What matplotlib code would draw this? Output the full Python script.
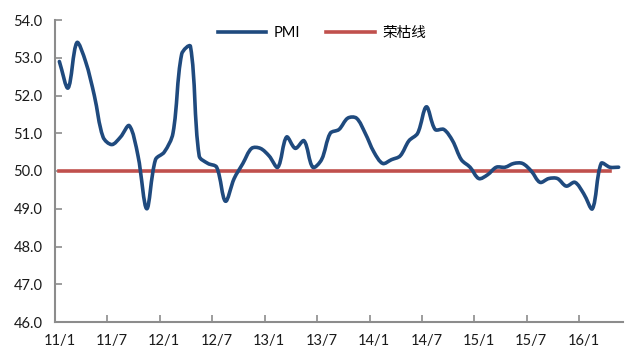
import matplotlib
matplotlib.use("Agg")
import matplotlib.pyplot as plt
from matplotlib.path import Path
from matplotlib.patches import PathPatch
from matplotlib.lines import Line2D
import numpy as np

plt.rcParams['font.family'] = ['Lato', 'Noto Sans CJK SC', 'DejaVu Sans']

months = [f"{y}/{m}" for y in range(11, 17) for m in range(1, 13)][:65]
pmi = [52.9, 52.2, 53.4, 52.9, 52.0, 50.9, 50.7, 50.9, 51.2, 50.4, 49.0, 50.3,
       50.5, 51.0, 53.1, 53.3, 50.4, 50.2, 50.1, 49.2, 49.8, 50.2, 50.6, 50.6,
       50.4, 50.1, 50.9, 50.6, 50.8, 50.1, 50.3, 51.0, 51.1, 51.4, 51.4, 51.0,
       50.5, 50.2, 50.3, 50.4, 50.8, 51.0, 51.7, 51.1, 51.1, 50.8, 50.3, 50.1,
       49.8, 49.9, 50.1, 50.1, 50.2, 50.2, 50.0, 49.7, 49.8, 49.8, 49.6, 49.7,
       49.4, 49.0, 50.2, 50.1, 50.1]
threshold = [50.0] * 64
yticks = [46.0, 47.0, 48.0, 49.0, 50.0, 51.0, 52.0, 53.0, 54.0]
tick_labels = ["11/1", "11/7", "12/1", "12/7", "13/1", "13/7", "14/1", "14/7", "15/1", "15/7", "16/1"]

BLUE = "#1F4A7E"
RED = "#C0504D"
GREY = "#8C8C8C"

fig = plt.figure(figsize=(6.28, 3.49), dpi=100)
ax = fig.add_axes([55/628, 1-322/349, (623-55)/628, (322-20)/349])

# screen scale (px per data unit) for length-aware smoothing
SX = 568 / 65.0
SY = 302 / 8.0

def smooth_path(xs, ys, s=1/3):
    xs = np.asarray(xs, float); ys = np.asarray(ys, float)
    n = len(xs)
    P = np.column_stack([xs, ys])
    scale = np.array([SX, SY])
    def dist(a, b):
        return np.hypot(*((P[b] - P[a]) * scale))
    verts = [tuple(P[0])]
    codes = [Path.MOVETO]
    for i in range(n - 1):
        i0, i1, i2, i3 = max(i-1, 0), i, i+1, min(i+2, n-1)
        d01, d12, d23 = dist(i0, i1), dist(i1, i2), dist(i2, i3)
        w1 = d12 / (d01 + d12) if (d01 + d12) > 0 else 0.5
        w2 = d12 / (d12 + d23) if (d12 + d23) > 0 else 0.5
        c1 = P[i1] + (P[i2] - P[i0]) * w1 * s
        c2 = P[i2] - (P[i3] - P[i1]) * w2 * s
        verts += [tuple(c1), tuple(c2), tuple(P[i2])]
        codes += [Path.CURVE4] * 3
    return Path(verts, codes)

x = np.arange(len(pmi))
ax.add_patch(PathPatch(smooth_path(x, pmi), fill=False, edgecolor=BLUE, lw=2.6,
                       capstyle='round', joinstyle='round', zorder=3))
ax.plot(np.arange(len(threshold)), threshold, color=RED, lw=2.6, zorder=2)

ax.set_xlim(-0.5, 64.5)
ax.set_ylim(46, 54)
ax.set_yticks(yticks)
ax.set_yticklabels([f"{v:.1f}" for v in yticks])
ax.set_xticks(np.arange(0, 65, 6)[:len(tick_labels)])
ax.set_xticklabels(tick_labels)
ax.set_xticks(np.arange(-0.5, 65, 6), minor=True)

for s in ['top', 'right']:
    ax.spines[s].set_visible(False)
for s in ['left', 'bottom']:
    ax.spines[s].set_color(GREY)
    ax.spines[s].set_linewidth(1.5)

ax.tick_params(axis='x', which='major', length=0, pad=9, labelsize=10.5, labelcolor='#1a1a1a')
ax.tick_params(axis='x', which='minor', direction='in', length=5, width=1.2, color=GREY)
ax.tick_params(axis='y', direction='in', length=5, width=1.2, color=GREY, pad=9,
               labelsize=10.5, labelcolor='#1a1a1a')

handles = [Line2D([], [], color=BLUE, lw=2.6), Line2D([], [], color=RED, lw=2.6)]
leg = fig.legend(handles, ["PMI", "荣枯线"], loc='center', bbox_to_anchor=(322/628, 1-33/349),
                 ncol=2, frameon=False, fontsize=10.5, handlelength=3.3, columnspacing=1.8,
                 handletextpad=0.55)

fig.savefig("out.png", dpi=100)
